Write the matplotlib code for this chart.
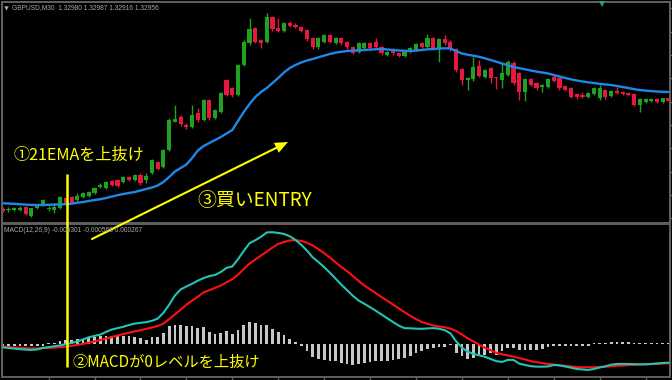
import matplotlib
matplotlib.use("Agg")
import matplotlib.pyplot as plt
import numpy as np
from matplotlib.patches import Polygon

# ---------------- data (price units = chart points, MACD in points) ----------------
opens = [13.5, 12, 12, 12, 15.3, 6, 13.7, 17, 13, 12,
         13.7, 23.7, 24.7, 22, 25.3, 26.3, 29.3, 35, 33.7, 41.3,
         42, 40.3, 45.3, 42, 47, 42, 49, 60, 55, 72,
         100.3, 105, 97, 95.3, 108.7, 102, 122, 104, 110, 142,
         134, 127, 157, 178.7, 193.7, 182, 180.3, 205.3, 193.7, 191.3,
         198.7, 197, 195.3, 192, 183.7, 174.7, 180.3, 187, 179.3, 183.7,
         180.3, 175.3, 170.3, 173.7, 178.7, 180.3, 175.3, 167, 172.7, 168.7,
         166.3, 170.3, 172, 178.7, 175.3, 183.7, 173.7, 182.7, 180.3, 172.7,
         152.7, 142, 142.7, 156, 145.3, 153.7, 144.7, 142, 147, 159.3,
         148.7, 130.3, 142.7, 138.7, 135.3, 135.3, 144.7, 143.7, 136, 133.7,
         128, 127, 125.3, 128, 123.7, 132, 126, 131.3, 130.3, 129.3,
         128, 117, 120.3, 121.3, 123, 120.3, 123.7]
highs = [15, 15, 15.5, 16, 16.5, 14.5, 18, 23, 16, 19,
         26, 25, 26, 29, 30, 31.5, 35, 39.3, 41.5, 42.5,
         43, 46.5, 46.5, 48, 49, 49, 63.5, 61, 73, 104,
         117, 107, 99, 117, 114, 123, 123, 113, 130, 143,
         135, 158, 182, 203.7, 195, 183, 208.7, 206.5, 203.7, 200,
         201, 199, 196.5, 193, 185, 185, 188.5, 188, 185, 185,
         181.5, 176.5, 180, 180, 180, 184, 176.5, 171.5, 174, 169.5,
         171.5, 175, 179.5, 180, 188, 185, 184, 187, 182, 174,
         154, 145, 164.7, 162, 153.5, 155, 145.3, 158.7, 162, 161,
         150, 144, 144, 140, 138, 144, 147, 145, 137, 135,
         129, 130.3, 130.5, 135, 137, 133, 132.5, 135.3, 131, 130,
         129, 124, 124, 124, 124, 124.5, 124.3]
lows = [10, 10.5, 11, 11, 7, 5, 13, 16, 11, 9.3,
        13, 18, 18, 21, 24.5, 25.5, 28.5, 34, 33, 36,
        35, 39.5, 41, 41, 37, 39, 48, 52, 54, 71,
        100, 96, 93, 94, 100, 101, 102.5, 103, 109, 126,
        125, 126, 156, 177, 179, 173.7, 179, 191, 190.5, 190.5,
        195, 194, 190.5, 181.5, 173.5, 173.5, 179.5, 179, 178.5, 177.5,
        173.5, 168, 169, 172.5, 172.5, 174, 167.5, 166, 167.5, 165.5,
        165.5, 169.5, 171, 174.5, 174.5, 172.5, 159.7, 177.5, 171.5, 150.5,
        137, 132, 141.5, 145, 144, 139.3, 133, 133.7, 146, 137.5,
        122, 121.3, 136, 132.5, 130.3, 134, 140.5, 132.5, 131, 124,
        123.5, 124, 124.5, 127, 122.5, 123.5, 125, 128, 127.3, 126.3,
        116, 110.3, 119.5, 120.5, 119.5, 119.5, 120.5]
closes = [11, 13.5, 14, 14.3, 8, 13.7, 17, 22, 14.3, 15.3,
          24.7, 18.7, 18.7, 26, 28.7, 30.3, 33.7, 37, 40.3, 37,
          36, 45.3, 42, 47, 38.7, 46, 62, 53.5, 72, 102,
          102.5, 98, 95, 107, 102, 122, 103.7, 112, 129, 127,
          127, 157, 180, 192.7, 180.3, 178.7, 205.3, 192.7, 191.3, 198.7,
          196, 195.3, 191.3, 182.7, 174.7, 183.7, 187, 180.3, 183.7, 178.7,
          174.7, 169.3, 178.7, 178.7, 173.7, 175.3, 168.7, 170.3, 168.7, 166.3,
          170.3, 173.7, 178, 175.3, 183.7, 173.7, 182.7, 178.7, 172.7, 152,
          142, 143.7, 155.3, 146, 152, 143.7, 143.7, 148.7, 160.3, 138.7,
          130.3, 142.7, 137, 133.7, 137, 142.7, 141.3, 133.7, 132, 125.3,
          124.7, 124.7, 129.3, 133.7, 133.7, 124.7, 131.3, 128.7, 128, 127,
          117, 122.7, 123, 123, 120.3, 123.7, 121.3]
ema21 = [18.7, 18.5, 18.2, 17.8, 17.4, 17, 17, 17, 17.2, 17.4,
         17.6, 17.8, 18.4, 19.2, 20, 21, 22, 22.8, 24, 25.4,
         26.8, 28, 29, 30, 31.5, 33, 34.5, 36.5, 40, 45,
         50.5, 54, 57.5, 64, 71.5, 76, 79, 82, 85, 88.5,
         92, 101, 110, 118, 125, 130, 134, 139, 144, 149.5,
         154, 157, 159.5, 161.5, 163, 164.7, 166.4, 168, 169.3, 170.2,
         171, 171.4, 171.7, 172, 172.4, 172.7, 173, 172.5, 172, 171.5,
         171.2, 171, 171.4, 172, 172.7, 173, 173.4, 173.7, 173.5, 171,
         168.5, 167.3, 166.3, 165.2, 163.7, 162, 160.3, 158.5, 156.7, 155,
         153.8, 152.7, 151.5, 150.4, 149.5, 148.5, 147, 145.5, 144, 142.7,
         141.5, 140.5, 139.7, 139, 138.2, 137.5, 137, 136, 135, 134,
         132.8, 132, 131.4, 130.9, 130.5, 130.2, 130]
macd_main = [-3.0, -3.5, -4.2, -4.8, -5.2, -5.5, -5.0, -3.5, -2.7, -1.9,
             -1.0, 0.2, 1.5, 2.9, 5.0, 7.1, 8.5, 9.7, 12.5, 14.8,
             16.2, 17.5, 19.3, 20.7, 21.5, 22.2, 23.5, 25.7, 31.5, 39.5,
             48.7, 54.8, 57.7, 60.5, 63.5, 66.1, 68.1, 69.2, 72.2, 76.3,
             77.7, 85.0, 93.2, 100.8, 103.8, 107.2, 111.6, 111.8, 111.1, 110.1,
             107.8, 104.2, 99.3, 93.5, 86.8, 82.1, 77.0, 71.5, 65.5, 59.5,
             54.0, 48.5, 43.8, 40.5, 37.1, 33.5, 29.8, 26.0, 22.3, 18.7,
             16.2, 16.0, 15.7, 15.5, 15.9, 16.2, 15.6, 14.2, 11.0, 3.0,
             -3.2, -7.2, -9.5, -10.9, -12.3, -14.5, -16.7, -17.5, -15.4, -15.5,
             -19.2, -20.5, -21.7, -22.2, -22.2, -22.0, -20.5, -21.0, -22.0, -23.2,
             -24.5, -25.0, -25.5, -24.5, -23.0, -21.8, -20.2, -19.5, -19.5, -19.5,
             -19.7, -19.8, -19.8, -19.5, -19.0, -18.5, -18.2]
macd_signal = [-2.3, -2.7, -3.1, -3.5, -3.8, -4.1, -4.1, -3.8, -3.5, -3.2,
               -2.8, -2.3, -1.5, -0.5, 0.5, 1.7, 3.0, 4.3, 5.7, 7.3,
               8.8, 10.3, 11.7, 12.9, 14.2, 15.5, 16.9, 18.3, 20.8, 25.2,
               29.8, 34.5, 39.5, 43.7, 47.5, 51.9, 54.0, 56.3, 58.7, 61.9,
               64.9, 69.5, 75.2, 80.5, 84.7, 88.5, 92.5, 96.5, 100.2, 102.0,
               103.6, 103.8, 103.3, 101.2, 98.7, 95.0, 90.9, 86.5, 81.8, 77.2,
               73.0, 68.2, 63.3, 58.7, 54.9, 51.0, 47.2, 43.5, 39.7, 35.9,
               32.2, 28.5, 25.2, 22.3, 20.5, 18.9, 17.9, 17.1, 15.7, 13.3,
               9.9, 6.1, 2.9, -0.2, -3.4, -5.8, -8.4, -9.9, -11.0, -12.2,
               -13.7, -15.0, -16.7, -17.7, -18.7, -19.5, -20.1, -20.7, -21.3, -22.0,
               -22.6, -22.8, -22.8, -22.8, -22.6, -22.3, -21.8, -21.4, -21.1, -20.7,
               -20.4, -20.1, -19.9, -19.6, -19.4, -19.1, -18.8]
macd_hist = [-1.5, -1.5, -1.5, -1.5, -1.5, -1.5, -1.5, -1.5, 1.0, 1.5,
             3, 4, 4.5, 5, 5.5, 7, 7, 8, 8, 8,
             8, 8, 8, 7, 6, 4.5, 7, 7, 11, 18,
             19.5, 19.5, 18.5, 18, 16.5, 17, 12, 10.5, 11, 13,
             10.5, 14, 19, 22, 21, 19, 19, 15, 12, 9,
             5.5, 2, -2, -7, -13, -15, -15.5, -16.5, -17, -19,
             -19.5, -20.5, -20, -19, -18, -17, -16.5, -16.5, -15.5, -15,
             -14, -11.5, -9, -6.5, -5, -4, -2.5, -2.5, -1, -9,
             -11.5, -15, -14, -12, -10.5, -9, -10.5, -7, -4, -4,
             -6, -5.5, -5.5, -5.5, -5, -3, -1.5, -1.5, -1.5, -1.5,
             -1.5, -1.5, -1.5, 1.5, 1.5, 1.5, 2.5, 2.5, 2.5, 2.5,
             1.5, 1.5, 1.5, 1.5, 1.5, 1.5, 1.5]
time_tick_bars = list(range(8, 117, 8))

title_text = "GBPUSD,M30  1.32980 1.32987 1.32916 1.32956"
macd_text = "MACD(12,26,9) -0.000301 -0.000568 0.000267"
note1 = "①21EMAを上抜け"
note2 = "②MACDが0レベルを上抜け"
note3 = "③買いENTRY"

# ---------------- styling ----------------
W, H = 672, 380
BG = "#000000"
FRAME = "#606060"
BULL = "#1fa31f"
BEAR = "#e8173f"
EMA_C = "#1e88e8"
MAIN_C = "#22c4b4"
SIG_C = "#ff1010"
HIST_C = "#c8c8c8"
YEL = "#ffff00"
LBL = "#a8a8a8"

plt.rcParams['font.family'] = ['Noto Sans CJK JP', 'DejaVu Sans']

fig = plt.figure(figsize=(W / 100, H / 100), dpi=100, facecolor=BG)

def px_rect(x0, y0, x1, y1):
    return [x0 / W, 1 - y1 / H, (x1 - x0) / W, (y1 - y0) / H]

X0, STEP = 2.7, 5.74
xl = ((1.5 - X0) / STEP, (669.5 - X0) / STEP)

n = len(closes)
idx = np.arange(n)
o = np.array(opens); c = np.array(closes); hi = np.array(highs); lo = np.array(lows)

# upper (price) panel
ax1 = fig.add_axes(px_rect(1.5, 2, 669.5, 222.5))
ax1.set_facecolor(BG)
ax1.set_xlim(*xl)
ax1.set_ylim(-0.5, 220)
up = c >= o
cols = np.where(up, BULL, BEAR)
ax1.vlines(idx, lo, hi, colors=cols, linewidth=1.0, zorder=2)
body_bottom = np.minimum(o, c)
body_h = np.maximum(np.abs(c - o), 1.2)
ax1.bar(idx, body_h, bottom=body_bottom, width=0.72, color=cols, linewidth=0, zorder=3)
ax1.plot(idx, ema21, color=EMA_C, linewidth=1.7, zorder=4, solid_capstyle='round')
ax1.set_xticks([]); ax1.set_yticks([])
for s in ax1.spines.values():
    s.set_color(FRAME); s.set_linewidth(1.4)

# lower (MACD) panel
ax2 = fig.add_axes(px_rect(1.5, 224, 669.5, 377))
ax2.set_facecolor(BG)
ax2.set_xlim(*xl)
ax2.set_ylim(-32.5, 120)
ax2.bar(idx, macd_hist, width=0.48, color=HIST_C, linewidth=0, zorder=2)
ax2.plot(idx, macd_signal, color=SIG_C, linewidth=1.5, zorder=3)
ax2.plot(idx, macd_main, color=MAIN_C, linewidth=1.5, zorder=4)
ax2.set_yticks([])
ax2.set_xticks(time_tick_bars)
ax2.tick_params(axis='x', direction='out', length=3, width=1, color=FRAME, labelbottom=False)
for s in ax2.spines.values():
    s.set_color(FRAME); s.set_linewidth(1.4)

# overlay in pixel coordinates for labels and hand-drawn annotations
ov = fig.add_axes([0, 0, 1, 1], facecolor='none')
ov.set_xlim(0, W); ov.set_ylim(H, 0); ov.axis('off')

# price scale ticks at the right edge
for yy in np.arange(8.3, 222, 23.35):
    ov.plot([669.5, 672], [yy, yy], color=FRAME, linewidth=1)

ov.plot([6], [7.5], marker='v', markersize=3.2, color=LBL, markeredgewidth=0)
ov.text(12.5, 8, title_text, color=LBL, fontsize=4.75, family='Liberation Sans', va='center', ha='left')
ov.text(4, 231, macd_text, color=LBL, fontsize=4.75, family='Liberation Sans', va='center', ha='left')
ov.plot([602], [3.5], marker='v', markersize=4, color='#2a9d8f', markeredgewidth=0)

# yellow vertical line
ov.plot([66.7, 66.7], [174, 367], color=YEL, linewidth=1.8, solid_capstyle='butt')
# yellow arrow
ov.plot([92, 278], [239, 147], color=YEL, linewidth=1.5, solid_capstyle='round')
tip = np.array([288.0, 142.0])
d = tip - np.array([92.0, 239.0]); d /= np.linalg.norm(d)
nrm = np.array([-d[1], d[0]])
base = tip - d * 13
head = Polygon([tip, base + nrm * 5.5, base - nrm * 5.5], closed=True, color=YEL, linewidth=0)
ov.add_patch(head)

ov.text(14, 155, note1, color=YEL, fontsize=11.6, va='center', ha='left')
ov.text(197, 200, note3, color=YEL, fontsize=13.6, va='center', ha='left')
ov.text(72, 362, note2, color=YEL, fontsize=11.0, va='center', ha='left')

fig.savefig("out.png", dpi=100, facecolor=BG)
